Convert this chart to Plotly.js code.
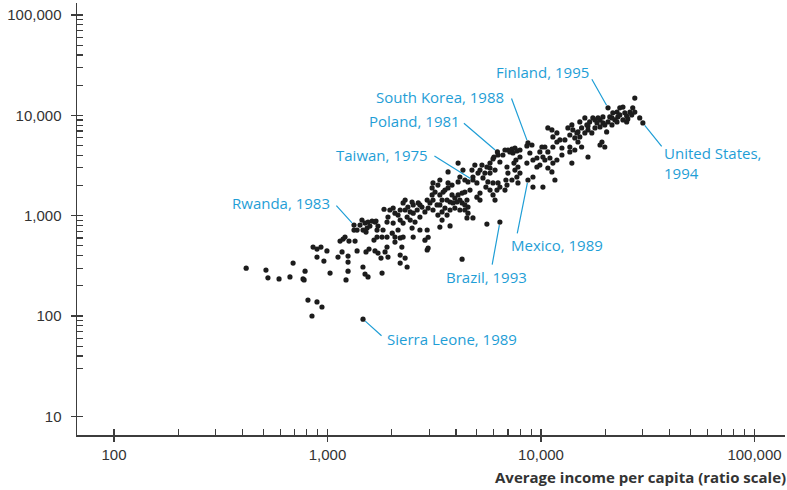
<!DOCTYPE html>
<html><head><meta charset="utf-8">
<script src="https://cdn.plot.ly/plotly-3.0.1.min.js"></script>
<style>html,body{margin:0;padding:0;background:#fff}#chart{width:787px;height:490px}</style>
</head><body><div id="chart"></div>
<script>
// Average income per capita (x) vs output per worker-type measure (y)
const income = [
 416,515,526,593,667,690,768,785,777,810,893,942,846,1467,1028,1221,1248,1248,1248,1120,962,893,856,893,932,994,1170,1376,1466,1499,1548,1801,1515,1565,1669,1724,1781,1145,1183,1261,1346,1331,1376,1515,1499,1548,1617,1687,1724,1706,1651,1706,1331,1467,1208,1532,1669,
 6250,8690,
 6290,6020,5960,5770,7000,7310,7550,7710,7390,8590,7970,7630,7470,7800,7550,7970,7710,6930,7000,6850,7310,7800,8590,8690,6420,5770,6090,5580,5460,5180,5350,5640,5960,6290,6220,5960,6090,6420,6780,6930,5770,5520,5180,5010,5180,4900,4750,4800,5010,4550,4400,4170,4090,4650,4400,4270,4090,3950,4040,4270,4500,4550,4400,4550,4800,4500,4170,3950,3870,3750,3630,3550,3440,3360,3440,3360,3480,3670,3670,3830,3360,3290,3120,3090,3190,3090,3120,3020,2930,2960,3120,3290,3440,3750,3360,2930,2960,2860,2930,2710,2770,2660,2630,2520,2490,2520,2440,2570,2490,2360,2310,2380,2260,2190,2140,2190,2260,2140,2070,2030,1960,1920,1900,2030,2010,1900,1820,2190,2070,2230,1900,1860,1920,2190,2360,5580,6420,4270,4090,4310,3670,4800,1840,2520,2710,2960,2260,2070,2310,2190,1800,
 27500,26900,27500,29000,30000,25200,25500,24200,23400,22700,21700,22900,22200,21000,20600,21500,20600,19500,18900,19500,18900,18300,17900,17500,16900,16400,16600,17300,16050,15500,15200,16050,15200,14900,14100,13650,14400,13370,13950,14730,20300,19300,19900,18900,16600,15500,14400,13650,12940,12260,11870,11250,10770,11370,11870,12530,11370,10770,10430,10100,9880,10210,9570,10430,11010,11370,10770,11250,11870,12530,13950,13650,11620,9880,9170,8870,9170,9170,10210,9070,9570,
 23400,24700,24200,26100,22700,21500,25200,26600,18500,19900,17900,16600,14900,7150,6780,7970,6630,3550,3830,4170,4400,3750,3260,3630,2310,2710,2860,2440,5290,5770,5070,1420,1580,1450
];
const output = [
 300,287,240,234,245,337,234,280,229,144,138,123,100,93,268,229,280,345,396,387,353,387,487,465,487,445,435,445,308,262,245,268,435,465,445,424,378,559,585,559,559,719,719,687,845,864,884,884,788,719,572,612,807,719,612,753,864,
 4320,5310,
 4030,3850,3680,3350,4520,4620,4730,4420,4220,4960,3850,3590,3350,3060,2850,2660,2430,3060,2660,2270,2270,2120,3350,2270,3430,2660,2850,3060,2660,2850,2380,2170,2120,2120,1800,1610,1430,1930,1800,2020,1800,1930,1680,1530,1430,3200,2850,2430,2120,2170,2270,2430,2170,1800,1720,1680,1610,1500,1370,1340,1430,1220,1140,1060,950,950,1140,1190,1340,1370,1430,1190,1090,1280,1430,1610,1720,1890,2120,2020,2270,2020,2120,1890,1720,1610,1430,1340,1430,1190,1140,1015,905,790,770,720,610,570,455,970,1220,1340,1140,1280,1370,1060,905,864,753,970,1140,1220,1340,1140,1015,905,845,720,1060,1190,1140,970,864,845,670,612,720,600,546,487,487,435,387,405,308,826,864,369,3350,2850,2730,2270,1160,612,720,476,612,612,378,337,612,
 14900,11900,10800,9430,8410,8600,9220,12100,11900,10800,10600,9650,9010,9650,8600,8030,11900,9650,9010,8410,7670,8410,7500,9430,8600,8030,7160,6680,6680,7500,8600,9430,6100,5430,7160,6380,5960,7500,8030,6680,6840,5430,4840,5070,3850,4840,4520,4840,5690,5690,6680,7160,7500,6100,5430,4730,4840,4320,4840,4840,4320,3850,3760,3590,3760,3350,2990,2730,3590,4030,3350,4320,2270,3200,3590,4220,2430,1930,1930,5070,3060,
 10100,10600,9010,10800,8600,9430,9880,10100,9430,8030,9010,7850,6840,4320,4520,4520,4030,1800,1610,1430,1280,1140,1280,1015,1430,1280,1090,1090,3200,2990,2660,807,788,905
];

const labelText = ['Rwanda, 1983','Sierra Leone, 1989','Taiwan, 1975','Poland, 1981','South Korea, 1988','Finland, 1995','United States,<br>1994','Mexico, 1989','Brazil, 1993'];
const labelIncome = [1331,1467,4800,6250,8690,20600,30000,8690,6420];
const labelOutput = [807,93,2270,4320,5310,11900,8410,2270,864];

const xTickVals = [100,1000,10000,100000];
const xTickText = ['100','1,000','10,000','100,000'];
const yTickVals = [10,100,1000,10000,100000];
const yTickText = ['10','100','1,000','10,000','100,000'];
const xTitle = 'Average income per capita (ratio scale)';

// label placement (pixels): text offset and leader tail offset
const place = [
 {xs:-73, ys:22,  xa:'center', ax:-19, ay:-21},
 {xs:89,  ys:-20, xa:'center', ax:20,  ay:18},
 {xs:-91, ys:25,  xa:'center', ax:-40, ay:-25},
 {xs:-83, ys:31,  xa:'center', ax:-35, ay:-30},
 {xs:-88, ys:46,  xa:'center', ax:-17, ay:-46},
 {xs:-66, ys:36,  xa:'center', ax:-17, ay:-30},
 {xs:19,  ys:-40, xa:'left',   ax:20,  ay:25},
 {xs:29,  ys:-65, xa:'center', ax:-11, ay:55},
 {xs:-13, ys:-55, xa:'center', ax:-8,  ay:44}
];

const blue = '#1f9ed6';
const axisColor = '#3c3c3c';
const tickFont = {family:'Liberation Sans, Arial, sans-serif', size:15, color:'#333'};

const xMinor = [], yMinor = [];
[100,1000,10000].forEach(d => { for (let m=2;m<=9;m++) xMinor.push(m*d); });
[10,100,1000,10000].forEach(d => { for (let m=2;m<=9;m++) { if (!(d===10 && m<3)) yMinor.push(m*d); } });

const xRange = [1.8267, 5.1429];
const yRange = [0.8136, 5.1206];

const traces = [
 {type:'scatter', mode:'markers', x:income, y:output,
  marker:{size:5.2, color:'#1c1c1c'}, hoverinfo:'x+y'},
 {type:'scatter', mode:'markers', x:[], y:[], xaxis:'x2', yaxis:'y2', hoverinfo:'skip'}
];

const annotations = [];
labelText.forEach((t,i) => {
  const p = place[i];
  const x = Math.log10(labelIncome[i]), y = Math.log10(labelOutput[i]);
  annotations.push({x:x, y:y, xref:'x', yref:'y', text:'', showarrow:true,
    arrowhead:0, arrowwidth:1.2, arrowcolor:blue, ax:p.ax, ay:p.ay, standoff:3});
  annotations.push({x:x, y:y, xref:'x', yref:'y', text:t, showarrow:false,
    xshift:p.xs, yshift:p.ys, xanchor:p.xa, yanchor:'middle', align:'left',
    font:{family:'Open Sans, sans-serif', size:15, color:blue}});
});
annotations.push({xref:'paper', yref:'paper', x:1, y:-0.097, xshift:3, xanchor:'right', yanchor:'middle',
  text:'<b>'+xTitle+'</b>', showarrow:false, font:{family:'Open Sans, sans-serif', size:15, color:'#333'}});

const layout = {
  width:787, height:490,
  margin:{l:77, r:2, t:3, b:55},
  paper_bgcolor:'#fff', plot_bgcolor:'#fff',
  showlegend:false,
  xaxis:{type:'log', range:xRange, showline:true, linecolor:axisColor, linewidth:1.5,
    ticks:'outside', ticklen:5, tickwidth:1.3, tickcolor:axisColor,
    tickmode:'array', tickvals:xTickVals, ticktext:xTickText, tickfont:tickFont,
    showgrid:false, zeroline:false,
    minor:{tickmode:'array', tickvals:xMinor, ticks:'inside', ticklen:6, tickwidth:1.2, tickcolor:axisColor, showgrid:false}},
  yaxis:{type:'log', range:yRange, showline:true, linecolor:axisColor, linewidth:1.5,
    ticks:'outside', ticklen:5, tickwidth:1.3, tickcolor:axisColor,
    tickmode:'array', tickvals:yTickVals, ticktext:yTickText, tickfont:tickFont, ticklabelstandoff:6,
    showgrid:false, zeroline:false,
    minor:{tickmode:'array', tickvals:yMinor, ticks:'inside', ticklen:6, tickwidth:1.2, tickcolor:axisColor, showgrid:false}},
  xaxis2:{type:'log', range:xRange, overlaying:'x', anchor:'y2', side:'bottom', showline:false,
    ticks:'inside', ticklen:6, tickwidth:1.3, tickcolor:axisColor, tickmode:'array', tickvals:xTickVals,
    showticklabels:false, showgrid:false, zeroline:false},
  yaxis2:{type:'log', range:yRange, overlaying:'y', anchor:'x2', side:'left', showline:false,
    ticks:'inside', ticklen:6, tickwidth:1.3, tickcolor:axisColor, tickmode:'array', tickvals:yTickVals,
    showticklabels:false, showgrid:false, zeroline:false},
  annotations:annotations
};

Plotly.newPlot('chart', traces, layout, {displayModeBar:false, staticPlot:true});
</script>
</body></html>
